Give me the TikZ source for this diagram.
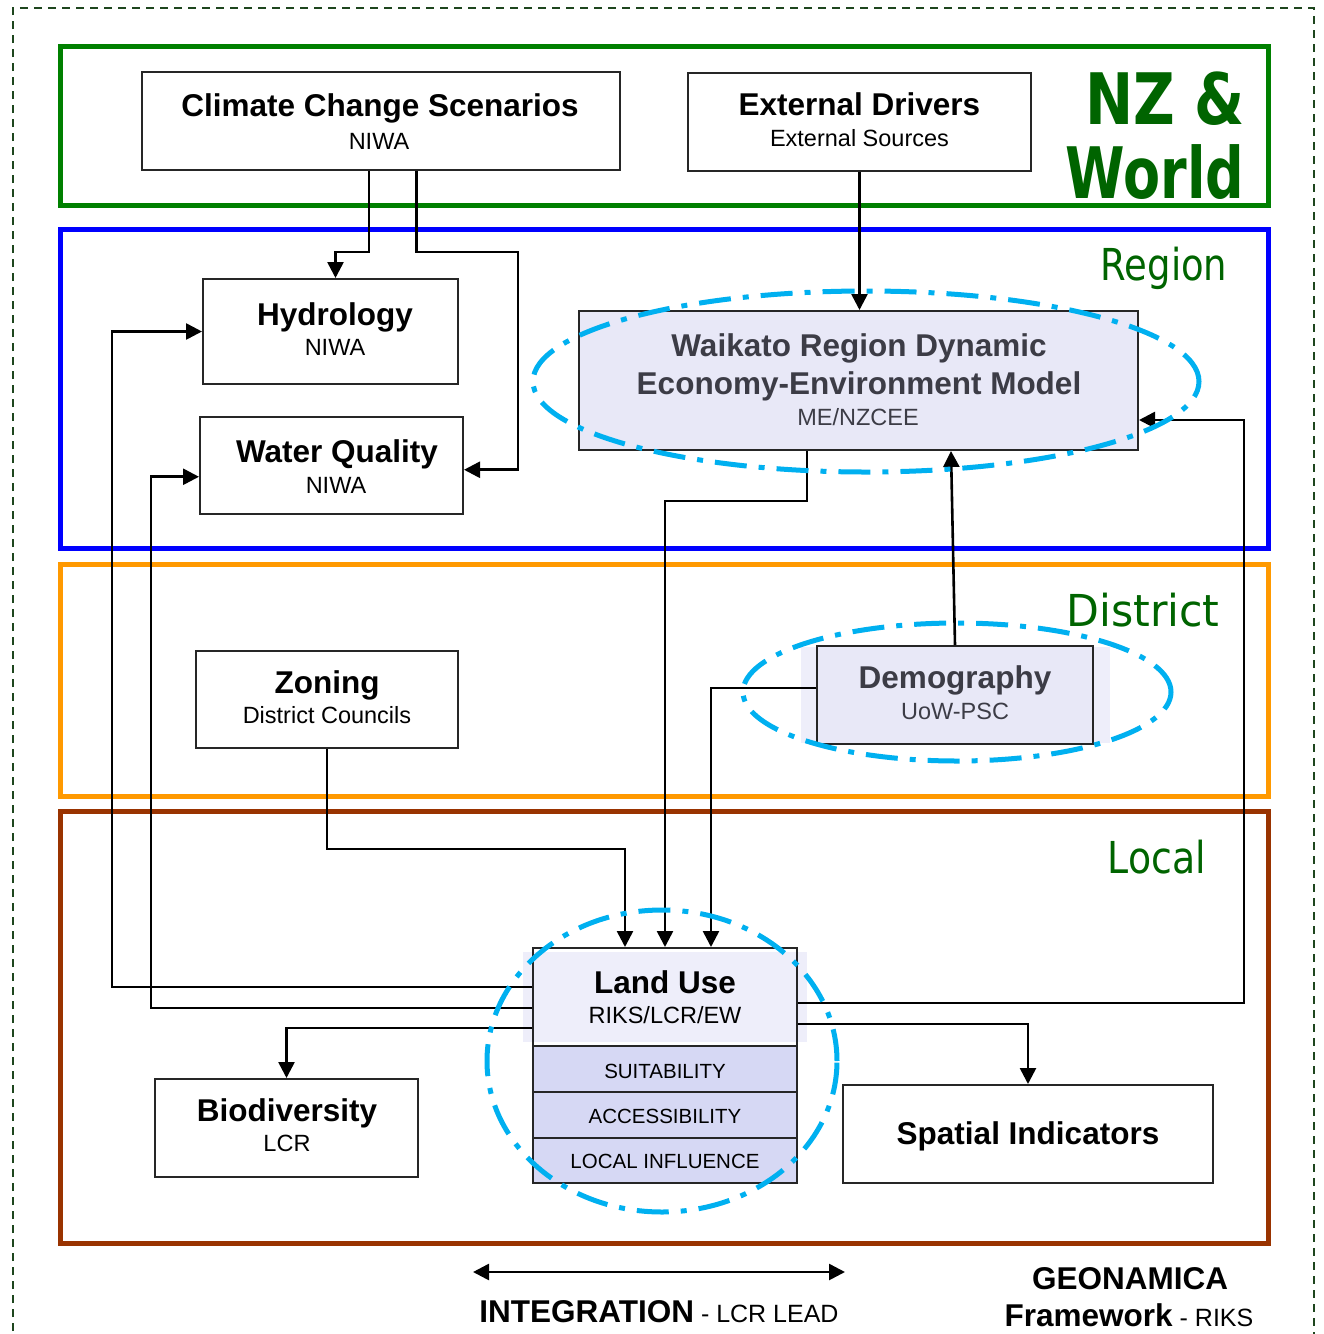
\documentclass[tikz,border=0pt]{standalone}
\usepackage{fontspec}
\usepackage{graphicx}
\setmainfont{Liberation Sans}
\newfontfamily\tierfont{DejaVu Sans}
\usetikzlibrary{arrows.meta,calc}
\definecolor{nzgreen}{RGB}{0,128,0}
\definecolor{regblue}{RGB}{0,0,255}
\definecolor{distorange}{RGB}{255,153,0}
\definecolor{localbrown}{RGB}{153,51,0}
\definecolor{labgreen}{RGB}{0,100,0}
\definecolor{cyanline}{RGB}{0,176,240}
\definecolor{lav}{RGB}{232,232,247}
\definecolor{lavhalo}{RGB}{238,238,250}
\definecolor{lavrow}{RGB}{214,216,244}
\definecolor{greytext}{RGB}{60,60,70}
\definecolor{borderdash}{RGB}{30,70,30}
\tikzset{
 box/.style={draw=black!85, line width=2pt, fill=white, inner sep=0pt},
 lavbox/.style={box, fill=lav},
 rowbox/.style={box, fill=lavrow},
 halo/.style={fill=lavhalo, draw=none, inner sep=0pt},
 ttl/.style={anchor=base, font=\fontsize{31.5}{36}\selectfont\bfseries, inner sep=0pt},
 sub/.style={anchor=base, font=\fontsize{23.5}{28}\selectfont, inner sep=0pt},
 rowtxt/.style={anchor=base, font=\fontsize{20.5}{24}\selectfont, inner sep=0pt},
 conn/.style={line width=2.6pt, -{Triangle[length=16pt,width=16pt]}},
 frame/.style={line width=5pt},
 cyandash/.style={draw=cyanline, line width=5pt, dash pattern=on 32pt off 12pt on 6pt off 12pt},
 tier/.style={anchor=base, text=labgreen, inner sep=0pt},
}
\begin{document}
\begin{tikzpicture}[x=1pt,y=-1pt]
\useasboundingbox (0,0) rectangle (1324,1334);
% outer dashed border
\draw[borderdash, line width=1.6pt, dash pattern=on 8pt off 6pt] (13,1345) -- (13,8) -- (1314,8) -- (1314,1345);
% tier frames
\draw[frame, nzgreen] (60,46) rectangle (1268,205);
\draw[frame, regblue] (60,229) rectangle (1268,548);
\draw[frame, distorange] (60,564) rectangle (1268,796);
\draw[frame, localbrown] (60,811) rectangle (1268,1243);
% tier labels
\node[tier, font=\fontsize{71}{80}\selectfont\tierfont\bfseries] (lnz) at (1165,124) {\scalebox{0.81}[1]{NZ \&}};
\node[tier, font=\fontsize{71}{80}\selectfont\tierfont\bfseries] (lworld) at (1155,198) {\scalebox{0.76}[1]{World}};
\node[tier, font=\fontsize{44}{50}\selectfont\tierfont] (lregion) at (1164,280) {\scalebox{0.84}[1]{Region}};
\node[tier, font=\fontsize{44}{50}\selectfont\tierfont] (ldistrict) at (1143,626) {\scalebox{0.97}[1]{District}};
\node[tier, font=\fontsize{44}{50}\selectfont\tierfont] (llocal) at (1157,873) {\scalebox{0.86}[1]{Local}};
% halos
\node[halo, minimum width=309pt, minimum height=96pt] (demhalo) at (955.5,695) {};
\node[halo, minimum width=284pt, minimum height=90pt] (luhalo) at (665,997) {};
% boxes
\node[box, minimum width=478pt, minimum height=98pt] (ccs) at (381,121) {};
\node[box, minimum width=343pt, minimum height=98pt] (ext) at (859.5,122) {};
\node[box, minimum width=255pt, minimum height=105pt] (hyd) at (330.5,331.5) {};
\node[box, minimum width=263pt, minimum height=97.5pt] (wq) at (331.5,465.25) {};
\node[lavbox, minimum width=559pt, minimum height=139pt] (wrd) at (858.5,380.5) {};
\node[box, minimum width=262pt, minimum height=97pt] (zon) at (327,699.5) {};
\node[lavbox, minimum width=276pt, minimum height=98pt] (dem) at (955,695) {};
\node[lavbox, minimum width=264pt, minimum height=98pt, fill opacity=0] (lu) at (665,997) {};
\node[rowbox, minimum width=264pt, minimum height=46pt] (suit) at (665,1069) {};
\node[rowbox, minimum width=264pt, minimum height=46pt] (acc) at (665,1115) {};
\node[rowbox, minimum width=264pt, minimum height=45pt] (linf) at (665,1160.5) {};
\node[box, minimum width=263pt, minimum height=98pt] (bio) at (286.5,1128) {};
\node[box, minimum width=370pt, minimum height=98pt] (spi) at (1028,1134) {};
% texts
\node[ttl] (tccs) at (380,116) {Climate Change Scenarios};
\node[sub] (sccs) at (379,149) {NIWA};
\node[ttl] (text) at (859.5,115) {External Drivers};
\node[sub] (sext) at (859.5,146.5) {External Sources};
\node[ttl] (thyd) at (335,325) {Hydrology};
\node[sub] (shyd) at (335,355) {NIWA};
\node[ttl] (twq) at (337,462) {Water Quality};
\node[sub] (swq) at (336,493) {NIWA};
\node[ttl, text=greytext] (twrd1) at (859,356) {Waikato Region Dynamic};
\node[ttl, text=greytext] (twrd2) at (859,394) {Economy-Environment Model};
\node[sub, text=greytext] (swrd) at (858,425.5) {ME/NZCEE};
\node[ttl] (tzon) at (327,693) {Zoning};
\node[sub] (szon) at (327,723.5) {District Councils};
\node[ttl, text=greytext] (tdem) at (955,688) {Demography};
\node[sub, text=greytext] (sdem) at (955,719) {UoW-PSC};
\node[ttl] (tlu) at (665,993) {Land Use};
\node[sub] (slu) at (665,1023) {RIKS/LCR/EW};
\node[rowtxt] (tsuit) at (665,1078) {SUITABILITY};
\node[rowtxt] (tacc) at (665,1123) {ACCESSIBILITY};
\node[rowtxt] (tlinf) at (665,1168) {LOCAL INFLUENCE};
\node[ttl] (tbio) at (287,1121) {Biodiversity};
\node[sub] (sbio) at (287,1151.5) {LCR};
\node[ttl] (tspi) at (1028,1144) {Spatial Indicators};
% connectors
\draw[conn] ($(ccs.south)+(-12,0)$) -- ++(0,81) -| ($(hyd.north)+(5,0)$);
\draw[conn] ($(ccs.south)+(35.5,0)$) -- ++(0,81) -- ++(101.5,0) |- ($(wq.east)+(0,4.5)$);
\draw[conn] (ext.south) -- (ext.south |- wrd.north);
\draw[conn] ($(wrd.south)+(-51.5,0)$) -- ++(0,50) -| (lu.north);
\draw[conn] (dem.north) -- ($(wrd.south)+(92.5,0)$);
\draw[conn] ($(dem.west)+(0,-7)$) -| ($(lu.north)+(46,0)$);
\draw[conn] (zon.south) -- ++(0,100) -| ($(lu.north)+(-40,0)$);
\draw[conn] ($(lu.west)+(0,-10)$) -- ++(-420,0) |- (hyd.west);
\draw[conn] ($(lu.west)+(0,11)$) -- ++(-381,0) |- ($(wq.west)+(0,11.5)$);
\draw[conn] ($(lu.west)+(0,31)$) -| (bio.north);
\draw[conn] ($(lu.east)+(0,6)$) -- ++(446,0) |- ($(wrd.east)+(0,39.5)$);
\draw[conn] ($(lu.east)+(0,27)$) -| (spi.north);
% ellipses
\draw[cyandash] (866,381.5) ellipse [x radius=333pt, y radius=90.5pt];
\draw[cyandash] (957,692) ellipse [x radius=214pt, y radius=69pt];
\draw[cyandash] (662,1061) ellipse [x radius=175pt, y radius=151pt];
% bottom
\coordinate (intL) at (473,1272);
\coordinate (intR) at (845,1272);
\draw[line width=2.6pt, {Triangle[length=16pt,width=16pt]}-{Triangle[length=16pt,width=16pt]}] (intL) -- (intR);
\node[anchor=base, inner sep=0pt] (tint) at (659,1322) {\fontsize{31.5}{36}\selectfont\bfseries INTEGRATION\fontsize{25}{30}\selectfont\mdseries\ - LCR LEAD};
\node[anchor=base, inner sep=0pt, font=\fontsize{31.5}{36}\selectfont\bfseries] (tgeo) at (1130,1289) {GEONAMICA};
\node[anchor=base, inner sep=0pt] (tfw) at (1129,1326) {\fontsize{31.5}{36}\selectfont\bfseries Framework\fontsize{25}{30}\selectfont\mdseries\ - RIKS};
\end{tikzpicture}
\end{document}
